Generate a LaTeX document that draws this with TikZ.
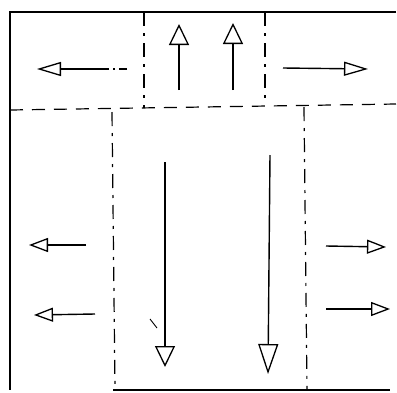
\documentclass[tikz,border=0pt]{standalone}
\usetikzlibrary{arrows.meta}
\begin{document}
\begin{tikzpicture}[x=1pt,y=-1pt,
  frame/.style={line width=1.8pt},
  hdash/.style={line width=1.2pt, dash pattern=on 13pt off 9pt},
  vdash/.style={line width=1.2pt, dash pattern=on 14pt off 7pt on 3pt off 7pt},
  flow/.style={line width=1.4pt},
  headA/.style={-{Triangle[open,length=21pt,width=20pt,line width=1.3pt]}},
  headB/.style={-{Triangle[open,length=24pt,width=14pt,line width=1.3pt]}},
  headC/.style={-{Triangle[open,length=19pt,width=14pt,line width=1.3pt]}}]
\useasboundingbox (0,0) rectangle (397,392);
% frame
\coordinate (tl) at (10,12); \coordinate (tr) at (396,12);
\coordinate (bl) at (10,390); \coordinate (bm) at (113,390); \coordinate (br) at (390,390);
\draw[frame] (tr) -- (tl) -- (bl);
\draw[frame] (bm) -- (br);
% dashed grid
\coordinate (hl) at (10,110); \coordinate (hr) at (396,104);
\draw[hdash] (hl) -- (hr);
\coordinate (v1t) at (144,12); \coordinate (v1b) at (144,108);
\coordinate (v2t) at (265,12); \coordinate (v2b) at (265,104);
\draw[vdash] (v1t) -- (v1b);
\draw[vdash] (v2t) -- (v2b);
\coordinate (v3t) at (112,112); \coordinate (v3b) at (115,390);
\coordinate (v4t) at (304,107); \coordinate (v4b) at (307,390);
\draw[vdash] (v3t) -- (v3b);
\draw[vdash] (v4t) -- (v4b);
% top arrows
\coordinate (a1s) at (108,69); \coordinate (a1e) at (37,69);
\draw[flow,headB] (a1s) -- (a1e);
\coordinate (a1x) at (127,69);
\draw[line width=1.1pt, dash pattern=on 8pt off 4pt on 2pt off 4pt] (a1x) -- (a1s);
\coordinate (a2s) at (179,90); \coordinate (a2e) at (179,24);
\draw[flow,headA] (a2s) -- (a2e);
\coordinate (a3s) at (233,90); \coordinate (a3e) at (233,23);
\draw[flow,headA] (a3s) -- (a3e);
\coordinate (a4s) at (283,68); \coordinate (a4e) at (368,69);
\draw[flow,headB] (a4s) -- (a4e);
% long down arrows
\coordinate (d1s) at (165,162); \coordinate (d1e) at (165,367);
\draw[flow,headA] (d1s) -- (d1e);
\coordinate (d2s) at (270,155); \coordinate (d2e) at (268,374);
\draw[flow,{-{Triangle[open,length=30pt,width=20pt,line width=1.3pt]}}] (d2s) -- (d2e);
% side arrows
\coordinate (l1s) at (86,245); \coordinate (l1e) at (29,245);
\draw[flow,headC] (l1s) -- (l1e);
\coordinate (l2s) at (95,314); \coordinate (l2e) at (34,315);
\draw[flow,headC] (l2s) -- (l2e);
\coordinate (r1s) at (326,246); \coordinate (r1e) at (386,247);
\draw[flow,headC] (r1s) -- (r1e);
\coordinate (r2s) at (326,309); \coordinate (r2e) at (390,309);
\draw[flow,headC] (r2s) -- (r2e);
% stray tick
\coordinate (t1) at (150,319); \coordinate (t2) at (157,328);
\draw[line width=0.9pt] (t1) -- (t2);
\end{tikzpicture}
\end{document}
